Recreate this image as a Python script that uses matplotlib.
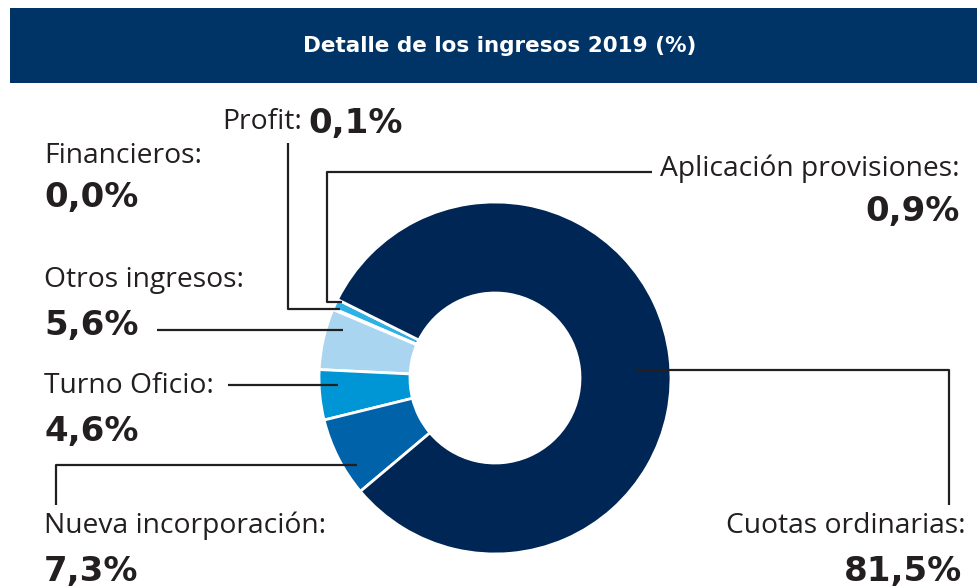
import matplotlib
matplotlib.use("Agg")
import matplotlib.pyplot as plt
from matplotlib.patches import Rectangle

# ---- data ----
categories = ["Aplicación provisiones", "Profit", "Financieros", "Otros ingresos",
              "Turno Oficio", "Nueva incorporación", "Cuotas ordinarias"]
values = [0.9, 0.1, 0.0, 5.6, 4.6, 7.3, 81.5]
value_labels = ["0,9%", "0,1%", "0,0%", "5,6%", "4,6%", "7,3%", "81,5%"]
colors = ["#2eb2e6", "#29aae1", "#29aae1", "#a9d5f1", "#0096d6", "#0062a9", "#002656"]
title = "Detalle de los ingresos 2019 (%)"

W, H = 978, 587
fig = plt.figure(figsize=(W / 100, H / 100), dpi=100)
ax = fig.add_axes([0, 0, 1, 1])

def Y(y):
    return H - y

CX, CY, R = 495, 378, 176
ax.pie(values, colors=colors, startangle=153.5, counterclock=True,
       center=(CX, Y(CY)), radius=R,
       wedgeprops=dict(width=R * 0.517, edgecolor="white", linewidth=2.0))
ax.set_xlim(0, W)
ax.set_ylim(0, H)
ax.set_aspect("auto")
ax.axis("off")

# title bar
ax.add_patch(Rectangle((10, Y(83)), W - 10, 75, facecolor="#003366", edgecolor="none", zorder=0))
ax.text(500, Y(46), title, color="white", fontsize=15.5, fontweight="bold",
        family="DejaVu Sans", ha="center", va="center")

name_font = dict(family="Open Sans", fontsize=20.3, color="#231f20")
val_font = dict(family="DejaVu Sans", fontsize=24.5, fontweight="bold", color="#231f20")
lc = dict(color="#231f20", linewidth=1.6, solid_capstyle="butt", zorder=5)

def line(xs, ys):
    ax.plot(xs, [Y(v) for v in ys], **lc)

# Financieros
ax.text(44, Y(156), categories[2] + ":", ha="left", va="center", **name_font)
ax.text(44, Y(197), value_labels[2], ha="left", va="center", **val_font)

# Profit
ax.text(222, Y(122), categories[1] + ":", ha="left", va="center", **name_font)
ax.text(308, Y(124), value_labels[1], ha="left", va="center", **val_font)
line([288, 288, 340], [143, 309, 309])

# Aplicación provisiones
ax.text(960, Y(169), categories[0] + ":", ha="right", va="center", **name_font)
ax.text(960, Y(212), value_labels[0], ha="right", va="center", **val_font)
line([652, 327, 327, 342], [172, 172, 302, 302])

# Otros ingresos
ax.text(44, Y(280), categories[3] + ":", ha="left", va="center", **name_font)
ax.text(44, Y(325), value_labels[3], ha="left", va="center", **val_font)
line([157, 343], [330, 330])

# Turno Oficio
ax.text(44, Y(386), categories[4] + ":", ha="left", va="center", **name_font)
ax.text(44, Y(431), value_labels[4], ha="left", va="center", **val_font)
line([228, 338], [385, 385])

# Nueva incorporación
ax.text(44, Y(526), categories[5] + ":", ha="left", va="center", **name_font)
ax.text(44, Y(571), value_labels[5], ha="left", va="center", **val_font)
line([56, 56, 357], [505, 465, 465])

# Cuotas ordinarias
ax.text(966, Y(526), categories[6] + ":", ha="right", va="center", **name_font)
ax.text(962, Y(571), value_labels[6], ha="right", va="center", **val_font)
line([636, 949, 949], [370, 370, 505])

fig.savefig("out.png", dpi=100)
